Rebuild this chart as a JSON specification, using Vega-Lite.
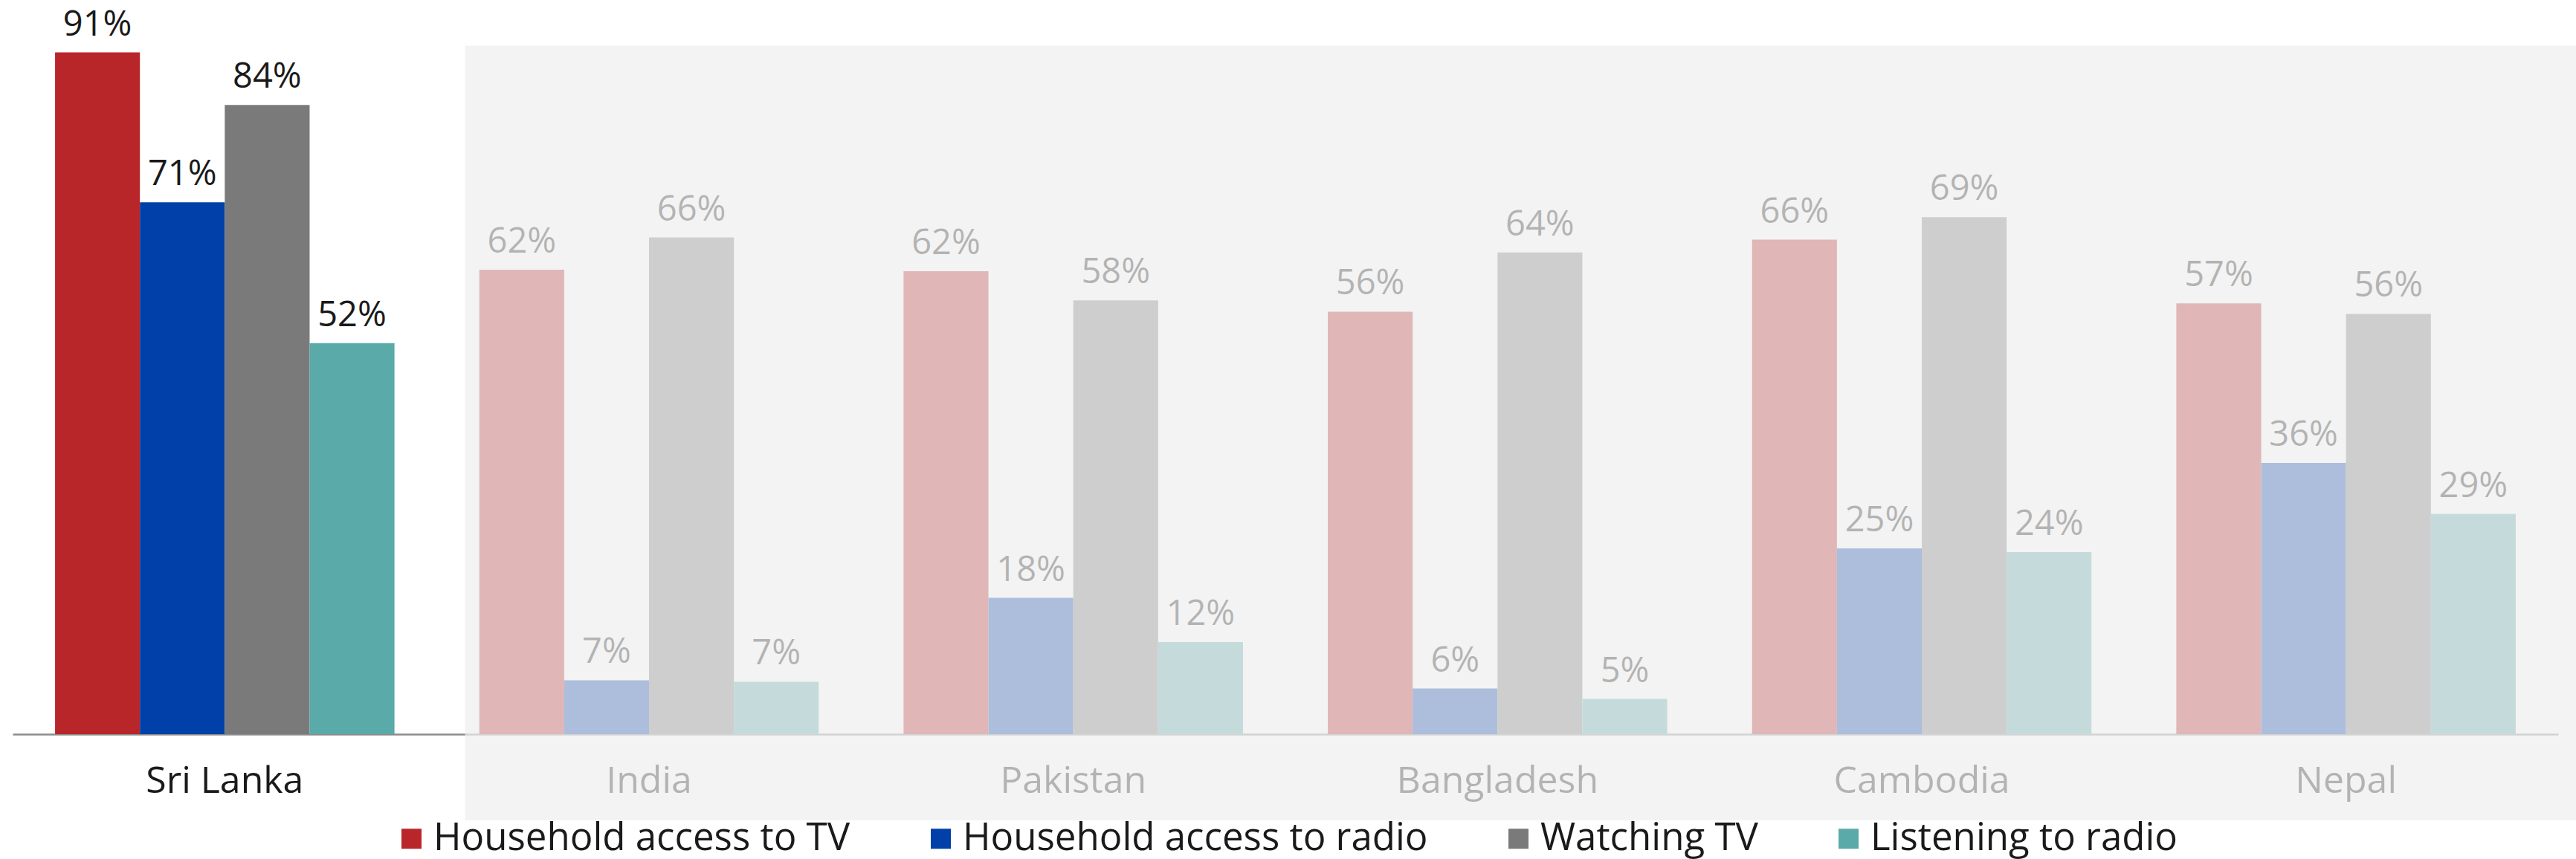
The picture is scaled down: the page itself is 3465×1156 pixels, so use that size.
{
  "$schema": "https://vega.github.io/schema/vega-lite/v6.json",
  "width": 3424,
  "height": 988,
  "autosize": {"type": "none"},
  "padding": {"left": 17, "right": 24, "top": 0, "bottom": 168},
  "background": "white",
  "config": {
    "view": {"stroke": null},
    "font": "Open Sans",
    "axis": {"zindex": 0}
  },
  "data": {
    "values": [
      {"country": "Sri Lanka", "indicator": "Household access to TV", "value": 0.91},
      {"country": "Sri Lanka", "indicator": "Household access to radio", "value": 0.71},
      {"country": "Sri Lanka", "indicator": "Watching TV", "value": 0.84},
      {"country": "Sri Lanka", "indicator": "Listening to radio", "value": 0.522},
      {"country": "India", "indicator": "Household access to TV", "value": 0.62},
      {"country": "India", "indicator": "Household access to radio", "value": 0.072},
      {"country": "India", "indicator": "Watching TV", "value": 0.663},
      {"country": "India", "indicator": "Listening to radio", "value": 0.07},
      {"country": "Pakistan", "indicator": "Household access to TV", "value": 0.618},
      {"country": "Pakistan", "indicator": "Household access to radio", "value": 0.182},
      {"country": "Pakistan", "indicator": "Watching TV", "value": 0.579},
      {"country": "Pakistan", "indicator": "Listening to radio", "value": 0.123},
      {"country": "Bangladesh", "indicator": "Household access to TV", "value": 0.564},
      {"country": "Bangladesh", "indicator": "Household access to radio", "value": 0.061},
      {"country": "Bangladesh", "indicator": "Watching TV", "value": 0.643},
      {"country": "Bangladesh", "indicator": "Listening to radio", "value": 0.047},
      {"country": "Cambodia", "indicator": "Household access to TV", "value": 0.66},
      {"country": "Cambodia", "indicator": "Household access to radio", "value": 0.248},
      {"country": "Cambodia", "indicator": "Watching TV", "value": 0.69},
      {"country": "Cambodia", "indicator": "Listening to radio", "value": 0.243},
      {"country": "Nepal", "indicator": "Household access to TV", "value": 0.575},
      {"country": "Nepal", "indicator": "Household access to radio", "value": 0.362},
      {"country": "Nepal", "indicator": "Watching TV", "value": 0.561},
      {"country": "Nepal", "indicator": "Listening to radio", "value": 0.294}
    ]
  },
  "encoding": {
    "x": {
      "field": "country",
      "type": "nominal",
      "sort": ["Sri Lanka", "India", "Pakistan", "Bangladesh", "Cambodia", "Nepal"],
      "scale": {"paddingInner": 0.2, "paddingOuter": 0.1},
      "axis": {
        "title": null,
        "ticks": false,
        "labelAngle": 0,
        "labelFont": "Open Sans",
        "labelFontSize": 50,
        "labelColor": "#1a1a1a",
        "labelPadding": 38,
        "labelLimit": 0,
        "domainColor": "#8c8c8c",
        "domainWidth": 2.5,
        "grid": false,
        "zindex": 0
      }
    }
  },
  "layer": [
    {
      "mark": {"type": "bar"},
      "encoding": {
        "xOffset": {
          "field": "indicator",
          "type": "nominal",
          "sort": ["Household access to TV", "Household access to radio", "Watching TV", "Listening to radio"],
          "scale": {"paddingInner": 0, "paddingOuter": 0}
        },
        "y": {
          "field": "value",
          "type": "quantitative",
          "scale": {"domain": [0, 0.98], "nice": false, "zero": true},
          "axis": null
        },
        "color": {
          "field": "indicator",
          "type": "nominal",
          "sort": ["Household access to TV", "Household access to radio", "Watching TV", "Listening to radio"],
          "scale": {
            "domain": ["Household access to TV", "Household access to radio", "Watching TV", "Listening to radio"],
            "range": ["#B9262A", "#0040A8", "#7A7A7A", "#5AAAAA"]
          },
          "legend": {
            "orient": "none",
            "legendX": 511,
            "legendY": 1103,
            "direction": "horizontal",
            "title": null,
            "padding": 0,
            "symbolType": "square",
            "symbolSize": 729,
            "symbolStrokeWidth": 0,
            "symbolOpacity": 1,
            "labelFont": "Open Sans",
            "labelFontSize": 51,
            "labelColor": "#1a1a1a",
            "labelOffset": 4,
            "columnPadding": 96,
            "labelLimit": 0
          }
        }
      }
    },
    {
      "mark": {"type": "text", "baseline": "alphabetic", "align": "center", "dy": -23, "fontSize": 47, "font": "Open Sans", "color": "#1a1a1a"},
      "encoding": {
        "xOffset": {
          "field": "indicator",
          "type": "nominal",
          "sort": ["Household access to TV", "Household access to radio", "Watching TV", "Listening to radio"]
        },
        "y": {"field": "value", "type": "quantitative"},
        "text": {"field": "value", "type": "quantitative", "format": ".0%"}
      }
    },
    {
      "data": {"values": [{}]},
      "mark": {"type": "rect", "fill": "#EFEFEF", "opacity": 0.72, "clip": false},
      "encoding": {
        "x": {"datum": "India", "type": "nominal", "bandPosition": -0.042},
        "x2": {"datum": "Nepal", "bandPosition": 1.18},
        "y": {"datum": 0.919, "type": "quantitative"},
        "y2": {"datum": -0.115}
      }
    }
  ]
}
